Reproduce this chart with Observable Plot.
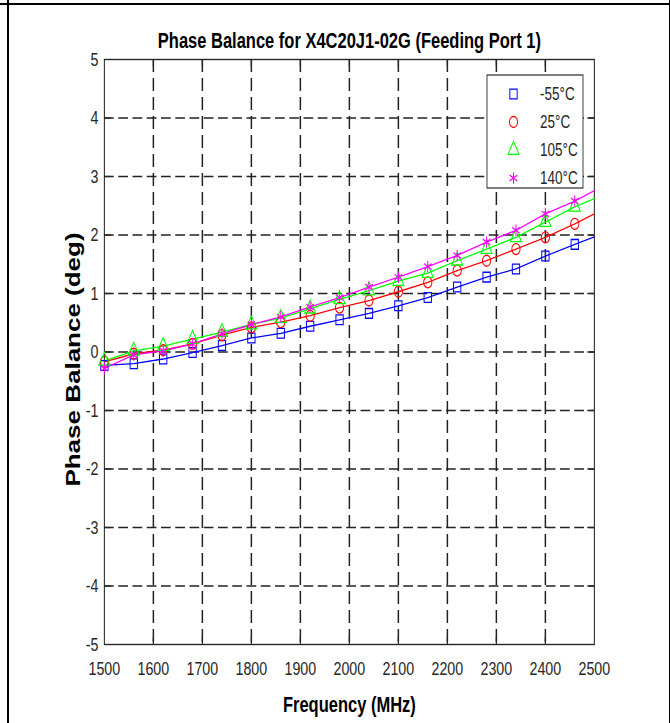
<!DOCTYPE html>
<html>
<head>
<meta charset="utf-8">
<script src="https://cdn.jsdelivr.net/npm/d3@7"></script>
<script src="https://cdn.jsdelivr.net/npm/@observablehq/plot@0.6"></script>
<style>
  body { margin: 0; background: #fff; }
  #wrap { position: relative; width: 670px; height: 723px; overflow: hidden; background: #fff; }
  #chart { position: absolute; left: 0; top: 0; width: 900px; height: 723px; }
  #chart svg { transform: scaleX(0.75); transform-origin: 0 0; display: block;
               max-width: none !important; width: 893.333px !important; height: 723px !important; }
  .bt { position: absolute; left: 0; top: 3px; width: 670px; height: 2px; background: #000; }
  .bl { position: absolute; left: 7px; top: 0; width: 2px; height: 723px; background: #000; }
  .br { position: absolute; left: 669px; top: 0; width: 1px; height: 723px; background: #000; }
</style>
</head>
<body>
<div id="wrap"><div id="chart"></div><div class="bt"></div><div class="bl"></div><div class="br"></div></div>
<script>
// ---- data ----
const titleText = "Phase Balance for X4C20J1-02G (Feeding Port 1)";
const xLabelText = "Frequency (MHz)";
const yLabelText = "Phase Balance (deg)";
const seriesNames = ["-55°C", "25°C", "105°C", "140°C"];
const seriesColors = ["#0000ff", "#ff0000", "#00ff00", "#ff00ff"];
const seriesSymbols = ["square", "circle", "triangle", "asterisk"];
const freqMHz = [1500, 1560, 1620, 1680, 1740, 1800, 1860, 1920, 1980, 2040, 2100, 2160, 2220, 2280, 2340, 2400, 2460];
const endFreqMHz = 2500;
const phaseM55 = [-0.23, -0.20, -0.12, -0.01, 0.11, 0.24, 0.32, 0.44, 0.55, 0.66, 0.79, 0.93, 1.11, 1.28, 1.42, 1.64, 1.84];
const phase25  = [-0.17, -0.03, 0.03, 0.14, 0.29, 0.42, 0.51, 0.62, 0.76, 0.88, 1.03, 1.19, 1.39, 1.56, 1.76, 1.96, 2.19];
const phase105 = [-0.15, 0.02, 0.10, 0.22, 0.34, 0.47, 0.58, 0.74, 0.90, 1.05, 1.21, 1.35, 1.56, 1.76, 1.96, 2.22, 2.48];
const phase140 = [-0.28, -0.05, 0.02, 0.14, 0.31, 0.47, 0.60, 0.77, 0.93, 1.11, 1.28, 1.46, 1.65, 1.88, 2.08, 2.36, 2.58];
const endPhase = [1.97, 2.36, 2.62, 2.76];
const xTicks = [1500, 1600, 1700, 1800, 1900, 2000, 2100, 2200, 2300, 2400, 2500];
const yTicks = [-5, -4, -3, -2, -1, 0, 1, 2, 3, 4, 5];

// ---- build tables ----
const seriesValues = [phaseM55, phase25, phase105, phase140];
const points = [];
const lineRows = [];
seriesNames.forEach((s, j) => {
  freqMHz.forEach((f, i) => {
    points.push({ f, v: seriesValues[j][i], s });
    lineRows.push({ f, v: seriesValues[j][i], s });
  });
  lineRows.push({ f: endFreqMHz, v: endPhase[j], s });
});

const k = 0.75;            // horizontal squeeze of the original picture
const W = 670 / k;
const H = 723;
const mL = 104 / k, mR = 76 / k, mT = 59, mB = 79;
const plotH = H - mT - mB;
const plotW = W - mL - mR;
const innerX = xTicks.slice(1, -1);
const innerY = yTicks.slice(1, -1);
const ink = "#262626";
const font = "'Liberation Sans', Arial, Helvetica, sans-serif";
const markR = 5.5;

const chart = Plot.plot({
  width: W, height: H,
  marginLeft: mL, marginRight: mR, marginTop: mT, marginBottom: mB,
  x: { domain: [1500, 2500] },
  y: { domain: [-5, 5] },
  color: { domain: seriesNames, range: seriesColors },
  symbol: { domain: seriesNames, range: seriesSymbols },
  style: { fontFamily: font, color: ink, background: "transparent", overflow: "visible" },
  marks: [
    Plot.gridY(innerY, { stroke: "#222", strokeOpacity: 1, strokeWidth: 1.5, strokeDasharray: "13,6" }),
    Plot.gridX(innerX, { stroke: "#222", strokeOpacity: 1, strokeWidth: 2, strokeDasharray: "13,6" }),
    Plot.tickX(innerX, { x: d => d, insetTop: plotH - 7, stroke: ink, strokeWidth: 1.6 }),
    Plot.tickX(innerX, { x: d => d, insetBottom: plotH - 7, stroke: ink, strokeWidth: 1.6 }),
    Plot.tickY(innerY, { y: d => d, insetLeft: plotW - 9, stroke: ink, strokeWidth: 1.3 }),
    Plot.tickY(innerY, { y: d => d, insetRight: plotW - 9, stroke: ink, strokeWidth: 1.3 }),
    Plot.frame({ stroke: ink, strokeWidth: 1.4 }),
    Plot.axisX(xTicks, { tickSize: 0, tickPadding: 17, tickFormat: d => String(d), fontSize: 19, label: null, fill: ink }),
    Plot.axisY(yTicks, { tickSize: 0, tickPadding: 8, tickFormat: d => String(d), fontSize: 19, label: null, fill: ink }),
    Plot.line(lineRows, { x: "f", y: "v", z: "s", stroke: "s", strokeWidth: 1.3 }),
    Plot.dot(points, { x: "f", y: "v", stroke: "s", symbol: "s", fill: "none", r: markR, strokeWidth: 1.3 }),
    Plot.text([titleText], { frameAnchor: "top", lineAnchor: "middle", textAnchor: "middle", dy: -19, fontSize: 22, fontWeight: "bold", fill: "#000", text: d => d }),
    Plot.text([xLabelText], { frameAnchor: "bottom", lineAnchor: "middle", textAnchor: "middle", dy: 60, fontSize: 22, fontWeight: "bold", fill: "#000", text: d => d }),
    Plot.text([yLabelText], { frameAnchor: "left", lineAnchor: "middle", textAnchor: "middle", dx: 97.3 - mL, dy: 7.5, rotate: -90, fontSize: 26, fontWeight: "bold", fill: "#000", text: d => d })
  ]
});

document.getElementById("chart").appendChild(chart);

// ---- legend (inside the axes, upper right) ----
const svg = d3.select(chart);
const lg = svg.append("g").attr("font-family", font).attr("text-anchor", "start");
const lx0 = 487 / k, lx1 = 583 / k, ly0 = 75, ly1 = 188;
lg.append("rect").attr("x", lx0).attr("y", ly0).attr("width", lx1 - lx0).attr("height", ly1 - ly0)
  .attr("fill", "#fff").attr("stroke", "#3a3a3a").attr("stroke-width", 1.3);
const rowY = [94, 122, 150, 178];
const symMap = { square: d3.symbolSquare, circle: d3.symbolCircle, triangle: d3.symbolTriangle, asterisk: d3.symbolAsterisk };
seriesNames.forEach((s, j) => {
  lg.append("path")
    .attr("d", d3.symbol().type(symMap[seriesSymbols[j]]).size(Math.PI * markR * markR)())
    .attr("transform", `translate(${513.5 / k},${rowY[j]})`)
    .attr("fill", "none").attr("stroke", seriesColors[j]).attr("stroke-width", 1.3);
  lg.append("text").attr("x", 540 / k).attr("y", rowY[j]).attr("dy", "0.35em")
    .attr("font-size", 18).attr("fill", ink).text(s);
});
</script>
</body>
</html>
